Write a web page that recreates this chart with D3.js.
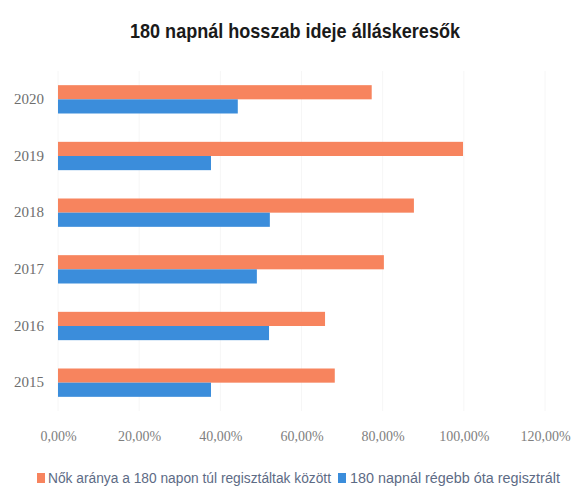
<!DOCTYPE html>
<html>
<head>
<meta charset="utf-8">
<script src="https://cdn.jsdelivr.net/npm/d3@7"></script>
<style>
  html, body { margin: 0; padding: 0; background: #ffffff; }
  svg { display: block; }
</style>
</head>
<body>
<svg id="chart" width="574" height="491"></svg>
<script>
const years = ["2020", "2019", "2018", "2017", "2016", "2015"];
const seriesNames = ["Nők aránya a 180 napon túl regisztáltak között", "180 napnál régebb óta regisztrált"];
const womenShare = [0.773, 0.998, 0.877, 0.803, 0.658, 0.682];
const longTerm = [0.443, 0.377, 0.522, 0.490, 0.520, 0.377];
const tickValues = [0, 0.2, 0.4, 0.6, 0.8, 1.0, 1.2];
const colors = ["#F7845E", "#3B8DDB"];

const svg = d3.select("#chart");
const x = d3.scaleLinear().domain([0, 1.2]).range([58, 545]);
const y = d3.scaleBand().domain(years).range([71, 411]).paddingInner(0.5).paddingOuter(0.25);
const ySub = d3.scaleBand().domain([0, 1]).range([0, y.bandwidth()]);

// gridlines (very faint)
svg.append("g")
  .selectAll("line")
  .data(tickValues)
  .join("line")
  .attr("x1", d => x(d)).attr("x2", d => x(d))
  .attr("y1", 71).attr("y2", 411)
  .attr("stroke", "#f6f6f6").attr("stroke-width", 1);

// title
svg.append("text")
  .attr("x", 130).attr("y", 38)
  .attr("font-family", "'Liberation Sans', Arial, sans-serif")
  .attr("font-weight", "bold")
  .attr("font-size", 21)
  .attr("textLength", 330)
  .attr("lengthAdjust", "spacingAndGlyphs")
  .attr("fill", "#1a1a1a")
  .text("180 napnál hosszab ideje álláskeresők");

const data = years.map((yr, i) => ({ year: yr, vals: [womenShare[i], longTerm[i]] }));

const groups = svg.append("g").selectAll("g")
  .data(data)
  .join("g")
  .attr("transform", d => `translate(0,${y(d.year)})`);

groups.selectAll("rect")
  .data(d => d.vals.map((v, k) => ({ v, k })))
  .join("rect")
  .attr("x", x(0))
  .attr("y", d => ySub(d.k))
  .attr("width", d => x(d.v) - x(0))
  .attr("height", ySub.bandwidth())
  .attr("fill", d => colors[d.k]);

// y axis labels
const yAxis = d3.axisLeft(y).tickSize(0).tickPadding(14);
const ya = svg.append("g").attr("transform", `translate(${x(0)},0)`).call(yAxis);
ya.select(".domain").remove();
ya.selectAll("text")
  .attr("font-family", "'Liberation Serif', serif")
  .attr("font-size", 15)
  .attr("fill", "#6e6e6e");

// x axis labels
const fmt = d => d3.format(".2f")(d * 100).replace(".", ",") + "%";
const xAxis = d3.axisBottom(x).tickValues(tickValues).tickSize(0).tickPadding(6).tickFormat(fmt);
const xa = svg.append("g").attr("transform", "translate(0,425)").call(xAxis);
xa.select(".domain").remove();
xa.selectAll("text")
  .attr("font-family", "'Liberation Serif', serif")
  .attr("font-size", 14)
  .attr("fill", "#808080");

// legend
const legend = svg.append("g").attr("transform", "translate(0,483)");
const items = [
  { sx: 37, tx: 48, len: 283, name: seriesNames[0], c: colors[0] },
  { sx: 338, tx: 350, len: 210, name: seriesNames[1], c: colors[1] }
];
items.forEach(it => {
  legend.append("rect").attr("x", it.sx).attr("y", -10).attr("width", 8).attr("height", 10).attr("fill", it.c);
  legend.append("text")
    .attr("x", it.tx).attr("y", 0)
    .attr("font-family", "'Liberation Sans', Arial, sans-serif")
    .attr("font-size", 14)
    .attr("textLength", it.len)
    .attr("lengthAdjust", "spacingAndGlyphs")
    .attr("fill", "#5d6b85")
    .text(it.name);
});
</script>
</body>
</html>
